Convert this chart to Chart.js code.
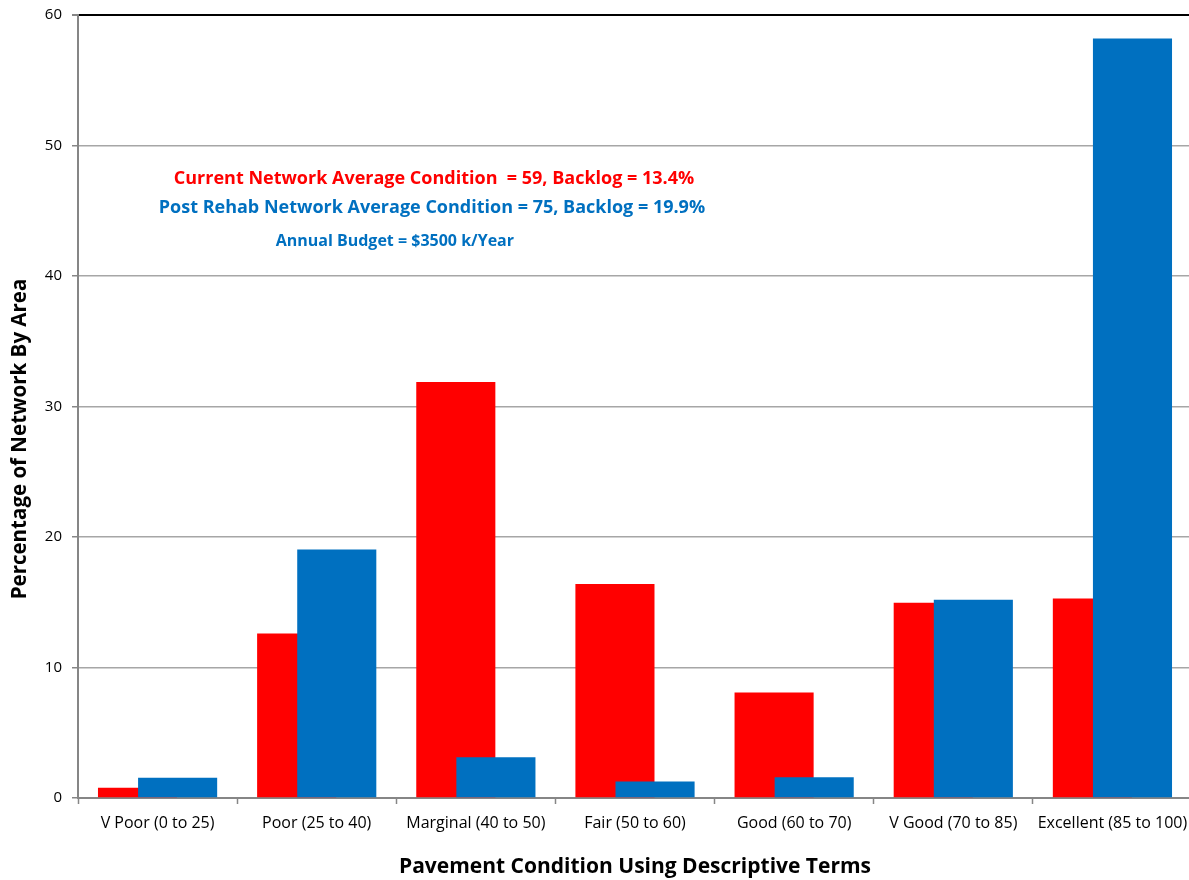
<!DOCTYPE html>
<html>
<head>
<meta charset="utf-8">
<script src="https://cdn.jsdelivr.net/npm/chart.js@4/dist/chart.umd.min.js"></script>
<style>
  html, body { margin: 0; background: #fff; overflow: hidden; }
  /* the plot runs a few pixels past the right edge of the window */
  #wrap { width: 1192px; height: 880px; position: relative; }
</style>
</head>
<body>
<div id="wrap"><canvas id="chart"></canvas></div>
<script>
// Pavement condition bands and share of network area in each
const categories = [
  'V Poor (0 to 25)', 'Poor (25 to 40)', 'Marginal (40 to 50)', 'Fair (50 to 60)',
  'Good (60 to 70)', 'V Good (70 to 85)', 'Excellent (85 to 100)'
]
const currentPct = [0.78, 12.6, 31.87, 16.4, 8.08, 14.97, 15.28]
const postRehabPct = [1.55, 19.05, 3.12, 1.26, 1.59, 15.2, 58.2]
const yTicks = [0, 10, 20, 30, 40, 50, 60]

const currentNote = 'Current Network Average Condition  = 59, Backlog = 13.4%'
const postRehabNote = 'Post Rehab Network Average Condition = 75, Backlog = 19.9%'
const budgetNote = 'Annual Budget = $3500 k/Year'

const RED = '#ff0000'
const BLUE = '#0070c0'
const GRID = '#a6a6a6'
const AXIS = '#868686'
const FONT = "'Open Sans', sans-serif"

// bars overlap by half: each series sits on its own hidden linear axis,
// shifted a quarter bar either side of the category centre
const SHIFT = 0.126
const hiddenAxis = (shift) => ({
  type: 'linear',
  display: false,
  offset: false,
  min: -0.5 - shift,
  max: categories.length - 0.5 - shift,
  afterBuildTicks(scale) {
    scale.ticks = categories.map((_, i) => ({ value: i }))
  }
})

const notesPlugin = {
  id: 'notes',
  afterDraw(chart) {
    const { ctx, scales: { x, y } } = chart
    ctx.save()
    ctx.textAlign = 'center'
    ctx.textBaseline = 'middle'

    ctx.font = `bold 18px ${FONT}`
    ctx.fillStyle = RED
    ctx.fillText(currentNote, x.getPixelForValue(1.737), y.getPixelForValue(47.45))
    ctx.fillStyle = BLUE
    ctx.fillText(postRehabNote, x.getPixelForValue(1.724), y.getPixelForValue(45.2))
    ctx.font = `bold 16px ${FONT}`
    ctx.fillText(budgetNote, x.getPixelForValue(1.491), y.getPixelForValue(42.65))

    // y axis title, centred on the whole figure rather than the plot
    ctx.translate(20, 439)
    ctx.rotate(-Math.PI / 2)
    ctx.font = `bold 20.5px ${FONT}`
    ctx.fillStyle = '#000'
    ctx.fillText('Percentage of Network By Area', 0, 0)
    ctx.restore()
  }
}

const ctx = document.getElementById('chart').getContext('2d')
new Chart(ctx, {
  type: 'bar',
  data: {
    labels: categories,
    datasets: [
      {
        label: 'Post Rehab',
        data: postRehabPct.map((v, i) => ({ x: i, y: v })),
        xAxisID: 'xb',
        backgroundColor: BLUE,
        categoryPercentage: 1,
        barPercentage: 0.497,
        grouped: false
      },
      {
        label: 'Current',
        data: currentPct.map((v, i) => ({ x: i, y: v })),
        xAxisID: 'xr',
        backgroundColor: RED,
        categoryPercentage: 1,
        barPercentage: 0.497,
        grouped: false
      }
    ]
  },
  options: {
    responsive: true,
    maintainAspectRatio: false,
    animation: false,
    layout: { padding: { top: 15, right: 0, bottom: 0, left: 0 } },
    plugins: {
      legend: { display: false },
      tooltip: { enabled: false }
    },
    scales: {
      x: {
        type: 'category',
        offset: true,
        grid: {
          offset: true,
          drawOnChartArea: false,
          tickLength: 6,
          tickColor: AXIS,
          tickWidth: 1.5
        },
        border: { color: AXIS, width: 2 },
        ticks: { color: '#000', font: { family: FONT, size: 16 }, padding: 10, maxRotation: 0 },
        title: {
          display: true,
          text: 'Pavement Condition Using Descriptive Terms',
          color: '#000',
          font: { family: FONT, size: 21, weight: 'bold' },
          padding: { top: 4, bottom: 0 }
        },
        afterFit(scale) {
          scale.height = 82
          scale.paddingLeft = 0
          scale.paddingRight = 0
        }
      },
      xr: hiddenAxis(-SHIFT),
      xb: hiddenAxis(SHIFT),
      y: {
        min: 0,
        max: 60,
        afterBuildTicks(scale) {
          scale.ticks = yTicks.map(v => ({ value: v }))
        },
        grid: {
          color: c => c.tick && c.tick.value === 60 ? '#000' : GRID,
          lineWidth: c => c.tick && c.tick.value === 60 ? 2 : 1.5,
          tickLength: 6,
          tickColor: AXIS
        },
        border: { color: AXIS, width: 2 },
        ticks: { color: '#000', font: { family: FONT, size: 15 }, padding: 10 },
        afterFit(scale) {
          scale.width = 78
          scale.paddingTop = 0
          scale.paddingBottom = 0
        }
      }
    }
  },
  plugins: [notesPlugin]
})
</script>
</body>
</html>
